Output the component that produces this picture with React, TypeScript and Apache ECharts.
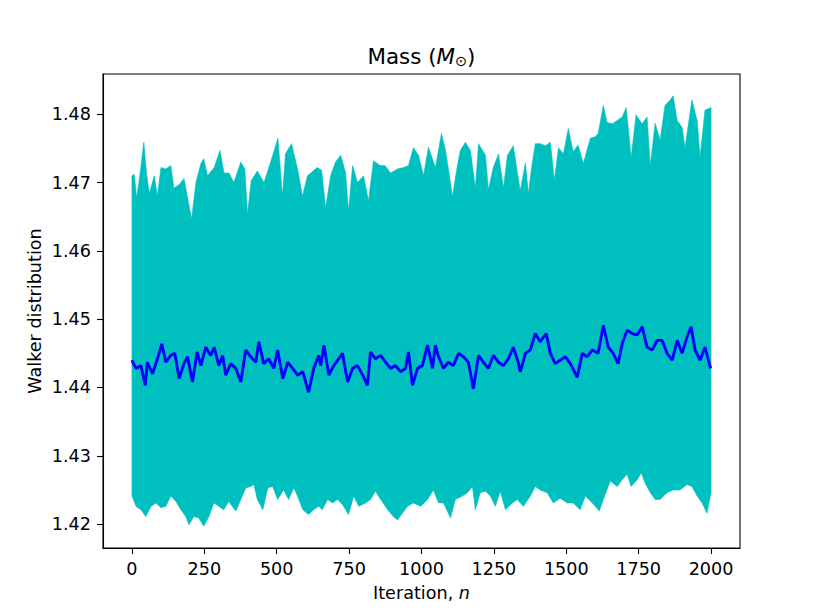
import React, { useEffect, useRef } from "react";
import * as echarts from "echarts";

// Iteration ticks and y ticks
const xTicks = [0, 250, 500, 750, 1000, 1250, 1500, 1750, 2000];
const yTicks = [1.42, 1.43, 1.44, 1.45, 1.46, 1.47, 1.48];

// Upper envelope of the walker distribution (iteration, value)
const upperEdge: [number, number][] = [
  [0, 1.471], [8, 1.4712], [16, 1.4678], [24, 1.47], [41, 1.4759], [50, 1.4715], [60, 1.4684],
  [77, 1.471], [88, 1.468], [100, 1.4722], [117, 1.472], [134, 1.4725], [145, 1.4692], [163, 1.4697],
  [180, 1.4706], [192, 1.4678], [206, 1.4647], [221, 1.47], [238, 1.4728], [248, 1.4735], [261, 1.471],
  [284, 1.4722], [304, 1.4747], [318, 1.4714], [335, 1.4714], [352, 1.47], [376, 1.473], [390, 1.472],
  [399, 1.4654], [412, 1.4703], [433, 1.4717], [456, 1.47], [479, 1.473], [504, 1.4765], [520, 1.468],
  [530, 1.4742], [551, 1.4757], [572, 1.472], [589, 1.468], [606, 1.471], [640, 1.4722], [655, 1.4718],
  [669, 1.4663], [686, 1.471], [703, 1.473], [721, 1.474], [738, 1.4714], [748, 1.4658], [762, 1.4725],
  [779, 1.47], [800, 1.471], [817, 1.4673], [834, 1.4732], [857, 1.4725], [874, 1.4725], [893, 1.4714],
  [917, 1.472], [938, 1.4722], [955, 1.4725], [972, 1.4751], [990, 1.474], [1007, 1.471], [1024, 1.4752],
  [1048, 1.4722], [1069, 1.4772], [1083, 1.4747], [1093, 1.472], [1107, 1.468], [1124, 1.4725],
  [1134, 1.4747], [1152, 1.4759], [1169, 1.4747], [1186, 1.4692], [1197, 1.4757], [1221, 1.474],
  [1231, 1.469], [1248, 1.4722], [1266, 1.4742], [1283, 1.4692], [1297, 1.474], [1317, 1.4754],
  [1341, 1.4688], [1359, 1.4729], [1369, 1.4684], [1383, 1.473], [1393, 1.4757], [1410, 1.4757],
  [1428, 1.4754], [1445, 1.4759], [1459, 1.4703], [1473, 1.4751], [1490, 1.4742], [1507, 1.4779],
  [1524, 1.4745], [1541, 1.4755], [1559, 1.4728], [1583, 1.4765], [1600, 1.4767], [1610, 1.4772],
  [1628, 1.4813], [1641, 1.4788], [1659, 1.4786], [1676, 1.4791], [1693, 1.4796], [1707, 1.481],
  [1724, 1.4737], [1741, 1.4799], [1762, 1.4786], [1779, 1.4796], [1790, 1.4725], [1807, 1.4787],
  [1824, 1.4762], [1841, 1.4813], [1859, 1.4821], [1869, 1.4827], [1883, 1.4791], [1900, 1.4781],
  [1910, 1.4751], [1934, 1.4821], [1952, 1.4791], [1962, 1.4737], [1979, 1.4806], [2000, 1.481],
];

// Lower envelope of the walker distribution (iteration, value)
const lowerEdge: [number, number][] = [
  [0, 1.4241], [14, 1.4226], [31, 1.4221], [48, 1.4211], [66, 1.4226], [83, 1.4231], [100, 1.4224],
  [117, 1.4226], [134, 1.4241], [152, 1.4233], [169, 1.4221], [186, 1.4211], [197, 1.4199], [214, 1.4211],
  [231, 1.4209], [248, 1.4197], [266, 1.4211], [283, 1.4231], [300, 1.4226], [317, 1.4221], [334, 1.4233],
  [359, 1.4219], [376, 1.4236], [393, 1.4253], [410, 1.4255], [421, 1.4258], [433, 1.4236], [452, 1.4221],
  [469, 1.4253], [486, 1.4255], [503, 1.4236], [524, 1.425], [541, 1.4236], [559, 1.4253], [572, 1.4241],
  [590, 1.4221], [610, 1.4214], [628, 1.4221], [645, 1.4226], [657, 1.4221], [676, 1.4236], [693, 1.4231],
  [710, 1.4236], [728, 1.4228], [748, 1.4214], [766, 1.4241], [783, 1.4226], [807, 1.4231], [824, 1.4236],
  [841, 1.4248], [859, 1.4236], [883, 1.4221], [903, 1.4211], [917, 1.4206], [934, 1.4216], [952, 1.4226],
  [972, 1.4231], [997, 1.4226], [1021, 1.4236], [1041, 1.425], [1059, 1.4231], [1076, 1.4231],
  [1100, 1.4209], [1117, 1.4236], [1141, 1.4241], [1159, 1.4246], [1176, 1.4255], [1186, 1.4221],
  [1203, 1.4246], [1221, 1.4248], [1238, 1.4241], [1255, 1.4226], [1272, 1.4248], [1290, 1.4221],
  [1314, 1.4231], [1331, 1.4236], [1352, 1.4226], [1376, 1.4241], [1393, 1.4255], [1410, 1.425],
  [1434, 1.4246], [1455, 1.4231], [1479, 1.4238], [1503, 1.4231], [1524, 1.4231], [1548, 1.4221],
  [1566, 1.4241], [1590, 1.4231], [1614, 1.4219], [1634, 1.4243], [1652, 1.4263], [1676, 1.4255],
  [1693, 1.4265], [1710, 1.4273], [1724, 1.4255], [1745, 1.4265], [1759, 1.4275], [1772, 1.426],
  [1790, 1.4246], [1807, 1.4236], [1824, 1.4236], [1848, 1.4246], [1869, 1.425], [1893, 1.425],
  [1917, 1.4258], [1934, 1.4255], [1952, 1.4241], [1969, 1.4231], [1986, 1.4216], [2000, 1.4246],
];

// Central walker value (iteration, value)
const centralLine: [number, number][] = [
  [0, 1.444], [3, 1.4437], [14, 1.4428], [31, 1.4432], [46, 1.4403], [53, 1.4437], [71, 1.442],
  [88, 1.4442], [103, 1.4464], [117, 1.4437], [134, 1.4447], [148, 1.445], [163, 1.4413], [180, 1.4435],
  [192, 1.4445], [209, 1.4408], [225, 1.4452], [238, 1.4432], [255, 1.4459], [272, 1.4447], [284, 1.4459],
  [300, 1.4432], [313, 1.4447], [324, 1.4418], [341, 1.4435], [359, 1.4428], [376, 1.4408], [393, 1.4455],
  [410, 1.4445], [428, 1.4437], [438, 1.4467], [455, 1.4435], [472, 1.4442], [490, 1.4428], [503, 1.4455],
  [521, 1.4413], [538, 1.4437], [555, 1.4428], [572, 1.4418], [590, 1.4423], [610, 1.4393], [628, 1.4428],
  [645, 1.4447], [652, 1.4432], [663, 1.4462], [680, 1.4418], [697, 1.4432], [714, 1.4442], [727, 1.445],
  [745, 1.4408], [762, 1.4428], [779, 1.4432], [797, 1.4418], [813, 1.4403], [824, 1.4452], [841, 1.4442],
  [859, 1.4447], [876, 1.4437], [893, 1.4428], [910, 1.4432], [928, 1.4423], [945, 1.4428], [955, 1.4452],
  [969, 1.4403], [986, 1.4428], [1003, 1.4432], [1021, 1.4462], [1038, 1.4428], [1048, 1.4462],
  [1059, 1.4445], [1076, 1.4428], [1093, 1.4437], [1110, 1.4432], [1128, 1.445], [1145, 1.4445],
  [1162, 1.4437], [1179, 1.4398], [1197, 1.4447], [1214, 1.4437], [1231, 1.4428], [1248, 1.4447],
  [1266, 1.4437], [1283, 1.4432], [1300, 1.4442], [1317, 1.4459], [1334, 1.4437], [1341, 1.4423],
  [1359, 1.445], [1376, 1.4455], [1393, 1.4479], [1410, 1.4467], [1431, 1.4479], [1445, 1.445],
  [1462, 1.4435], [1479, 1.444], [1497, 1.4445], [1514, 1.4435], [1538, 1.4415], [1555, 1.445],
  [1572, 1.4445], [1590, 1.4455], [1610, 1.445], [1628, 1.4491], [1645, 1.4459], [1662, 1.445],
  [1679, 1.4435], [1693, 1.4464], [1710, 1.4484], [1728, 1.4479], [1745, 1.4477], [1762, 1.4489],
  [1779, 1.4459], [1797, 1.4455], [1814, 1.4469], [1831, 1.4469], [1848, 1.445], [1866, 1.444],
  [1883, 1.4469], [1900, 1.445], [1917, 1.4474], [1931, 1.4489], [1945, 1.4455], [1962, 1.444],
  [1979, 1.4459], [1997, 1.443], [2000, 1.4428],
];

const FONT = "DejaVu Sans";
const LABEL_SIZE = 17.6;

export default function App() {
  const ref = useRef<HTMLDivElement>(null);

  useEffect(() => {
    if (!ref.current) return;
    const chart = echarts.init(ref.current, undefined, { renderer: "svg" });
    const GL = 103, GT = 74, GR = 822 - 740, GB = 616 - 548;
    const option: any = {
      animation: false,
      backgroundColor: "#ffffff",
      grid: {
        left: GL, top: GT, right: GR, bottom: GB,
        show: true, borderColor: "#000", borderWidth: 1.1, backgroundColor: "transparent",
      },
      xAxis: {
        type: "value",
        min: -100,
        max: 2100,
        axisLine: { show: true, onZero: false, lineStyle: { color: "#000", width: 1.1 } },
        axisTick: { show: true, length: 6, lineStyle: { color: "#000", width: 1.1 }, customValues: xTicks },
        axisLabel: {
          customValues: xTicks, color: "#000", fontSize: LABEL_SIZE, margin: 12, fontFamily: FONT,
          formatter: (v: number) => String(Math.round(v)),
        },
        splitLine: { show: false },
      },
      yAxis: {
        type: "value",
        min: 1.4165,
        max: 1.4859,
        axisLine: { show: true, onZero: false, lineStyle: { color: "#000", width: 1.1 } },
        axisTick: { show: true, length: 6, lineStyle: { color: "#000", width: 1.1 }, customValues: yTicks },
        axisLabel: {
          customValues: yTicks, color: "#000", fontSize: LABEL_SIZE, margin: 12, fontFamily: FONT,
          formatter: (v: number) => v.toFixed(2),
        },
        splitLine: { show: false },
      },
      graphic: [
        {
          type: "text",
          x: 421.5,
          y: 56,
          style: {
            text: "{a|Mass (}{i|M}{s|⊙}{a|)}",
            align: "center",
            verticalAlign: "middle",
            fill: "#000",
            rich: {
              a: { fontFamily: FONT, fontSize: 21.4, lineHeight: 25, verticalAlign: "middle", fill: "#000" },
              i: { fontFamily: FONT, fontSize: 21.4, fontStyle: "italic", lineHeight: 25, verticalAlign: "middle", fill: "#000" },
              s: { fontFamily: FONT, fontSize: 14.5, lineHeight: 14, verticalAlign: "bottom", fill: "#000" },
            },
          },
        },
        {
          type: "text",
          x: 421.5,
          y: 593,
          style: {
            text: "{a|Iteration, }{i|n}",
            align: "center",
            verticalAlign: "middle",
            rich: {
              a: { fontFamily: FONT, fontSize: LABEL_SIZE, fill: "#000" },
              i: { fontFamily: FONT, fontSize: LABEL_SIZE, fontStyle: "italic", fill: "#000" },
            },
          },
        },
        {
          type: "text",
          x: 35,
          y: 311,
          rotation: Math.PI / 2,
          style: {
            text: "Walker distribution",
            align: "center",
            verticalAlign: "middle",
            fontFamily: FONT,
            fontSize: LABEL_SIZE,
            fill: "#000",
          },
        },
      ],
      series: [
        {
          type: "custom",
          coordinateSystem: "cartesian2d",
          clip: true,
          z: 1,
          silent: true,
          data: [[1000, 1.45]],
          renderItem: (_params: any, api: any) => {
            const pts: number[][] = [];
            upperEdge.forEach((p) => pts.push(api.coord(p)));
            for (let i = lowerEdge.length - 1; i >= 0; i--) pts.push(api.coord(lowerEdge[i]));
            return {
              type: "polygon",
              shape: { points: pts },
              style: { fill: "#00bfbf", stroke: "#00bfbf", lineWidth: 0.6 },
            };
          },
        },
        {
          type: "line",
          data: centralLine,
          symbol: "none",
          showSymbol: false,
          z: 3,
          lineStyle: { color: "#0000ff", width: 2.9 },
        },
      ],
    };
    chart.setOption(option);
    return () => chart.dispose();
  }, []);

  return (
    <div
      ref={ref}
      style={{ position: "fixed", left: 0, top: 0, width: 822, height: 616 }}
    />
  );
}
